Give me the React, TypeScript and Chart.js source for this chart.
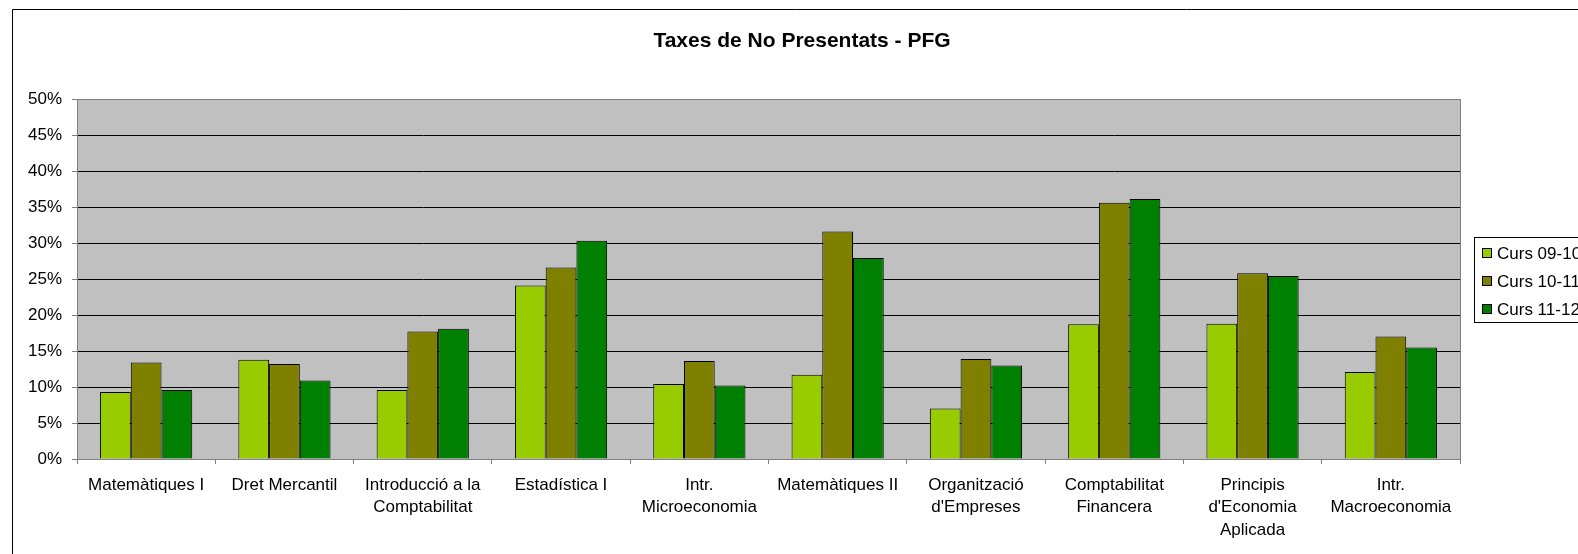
import React, { useEffect, useRef } from "react";
import { Chart, registerables } from "chart.js";

Chart.register(...registerables);

const TITLE = "Taxes de No Presentats - PFG";

const categories: (string | string[])[] = [
  "Matemàtiques I",
  "Dret Mercantil",
  ["Introducció a la", "Comptabilitat"],
  "Estadística I",
  ["Intr.", "Microeconomia"],
  "Matemàtiques II",
  ["Organització", "d'Empreses"],
  ["Comptabilitat", "Financera"],
  ["Principis", "d'Economia", "Aplicada"],
  ["Intr.", "Macroeconomia"],
];

const seriesLabels = ["Curs 09-10", "Curs 10-11", "Curs 11-12"];

// values in percent
const curs0910 = [9.3, 13.8, 9.6, 24.1, 10.4, 11.7, 7.0, 18.7, 18.8, 12.1];
const curs1011 = [13.4, 13.2, 17.7, 26.6, 13.6, 31.6, 13.9, 35.6, 25.8, 17.0];
const curs1112 = [9.6, 10.9, 18.1, 30.3, 10.2, 27.9, 13.0, 36.1, 25.4, 15.5];

const seriesColors = ["#99CC00", "#808000", "#008000"];

const yMin = 0;
const yMax = 50;
const yStep = 5;

const FONT = "'Liberation Sans', Arial, Helvetica, sans-serif";

const excelLook = {
  id: "excelLook",
  beforeDraw(chart: any) {
    const { ctx, chartArea: a, width, height } = chart;
    ctx.save();
    ctx.fillStyle = "#ffffff";
    ctx.fillRect(0, 0, width, height);
    ctx.fillStyle = "#C0C0C0";
    ctx.fillRect(a.left, a.top, a.right - a.left, a.bottom - a.top);
    ctx.restore();
  },
  afterDraw(chart: any) {
    const { ctx, chartArea: a, width, height } = chart;
    ctx.save();
    // plot area border
    ctx.strokeStyle = "#808080";
    ctx.lineWidth = 1;
    ctx.strokeRect(a.left + 0.5, a.top + 0.5, a.right - a.left, a.bottom - a.top);

    // outer chart frame
    ctx.strokeStyle = "#000000";
    ctx.beginPath();
    ctx.moveTo(12.5, height);
    ctx.lineTo(12.5, 9.5);
    ctx.lineTo(width, 9.5);
    ctx.stroke();

    // title
    ctx.fillStyle = "#000000";
    ctx.font = `bold 21px ${FONT}`;
    ctx.textAlign = "center";
    ctx.textBaseline = "alphabetic";
    ctx.fillText(TITLE, 802, 47);

    // legend
    const ds = chart.data.datasets;
    const lx = a.right + 14;
    const rowH = 28;
    const boxH = rowH * ds.length + 1;
    const ly = Math.round((a.top + a.bottom) / 2 - boxH / 2);
    ctx.strokeStyle = "#000000";
    ctx.strokeRect(lx + 0.5, ly + 0.5, 300, boxH);
    ctx.font = `17px ${FONT}`;
    ctx.textAlign = "left";
    ctx.textBaseline = "middle";
    ds.forEach((d: any, i: number) => {
      const yc = ly + 16 + i * rowH;
      ctx.fillStyle = d.backgroundColor;
      ctx.fillRect(lx + 8, yc - 5, 9, 9);
      ctx.strokeStyle = "#000000";
      ctx.strokeRect(lx + 8.5, yc - 4.5, 9, 9);
      ctx.fillStyle = "#000000";
      ctx.fillText(d.label, lx + 23, yc + 1);
    });
    ctx.restore();
  },
};

export default function App() {
  const ref = useRef<HTMLCanvasElement | null>(null);

  useEffect(() => {
    if (!ref.current) return;
    const seriesValues = [curs0910, curs1011, curs1112];
    const chart = new Chart(ref.current, {
      type: "bar",
      data: {
        labels: categories,
        datasets: seriesValues.map((vals, i) => ({
          label: seriesLabels[i],
          data: vals,
          backgroundColor: seriesColors[i],
          borderColor: "#000000",
          borderWidth: 1,
          categoryPercentage: 0.6667,
          barPercentage: 1.0,
        })),
      },
      options: {
        responsive: false,
        animation: false,
        devicePixelRatio: 1,
        events: [],
        layout: { padding: { top: 99, right: 118, left: 0, bottom: 0 } },
        plugins: {
          legend: { display: false },
          title: { display: false },
          tooltip: { enabled: false },
        },
        scales: {
          x: {
            ticks: {
              font: { family: FONT, size: 17, lineHeight: 1.32 },
              color: "#000000",
              padding: 10,
              autoSkip: false,
              maxRotation: 0,
              minRotation: 0,
            },
            grid: {
              drawOnChartArea: false,
              tickLength: 5,
              color: "#808080",
            },
            border: { color: "#808080" },
            afterFit: (s: any) => {
              s.height = 95;
            },
          },
          y: {
            min: yMin,
            max: yMax,
            ticks: {
              stepSize: yStep,
              callback: (v: any) => `${v}%`,
              font: { family: FONT, size: 17 },
              color: "#000000",
              padding: 10,
            },
            grid: {
              color: "#000000",
              tickColor: "#808080",
              tickLength: 5,
              lineWidth: 1,
            },
            border: { color: "#808080" },
            afterFit: (s: any) => {
              s.width = 77;
            },
          },
        },
      },
      plugins: [excelLook],
    });
    return () => chart.destroy();
  }, []);

  return (
    <div
      style={{
        position: "fixed",
        left: 0,
        top: 0,
        width: 1578,
        height: 554,
        overflow: "hidden",
        background: "#ffffff",
      }}
    >
      <canvas ref={ref} width={1578} height={554} style={{ display: "block", width: 1578, height: 554 }} />
    </div>
  );
}
